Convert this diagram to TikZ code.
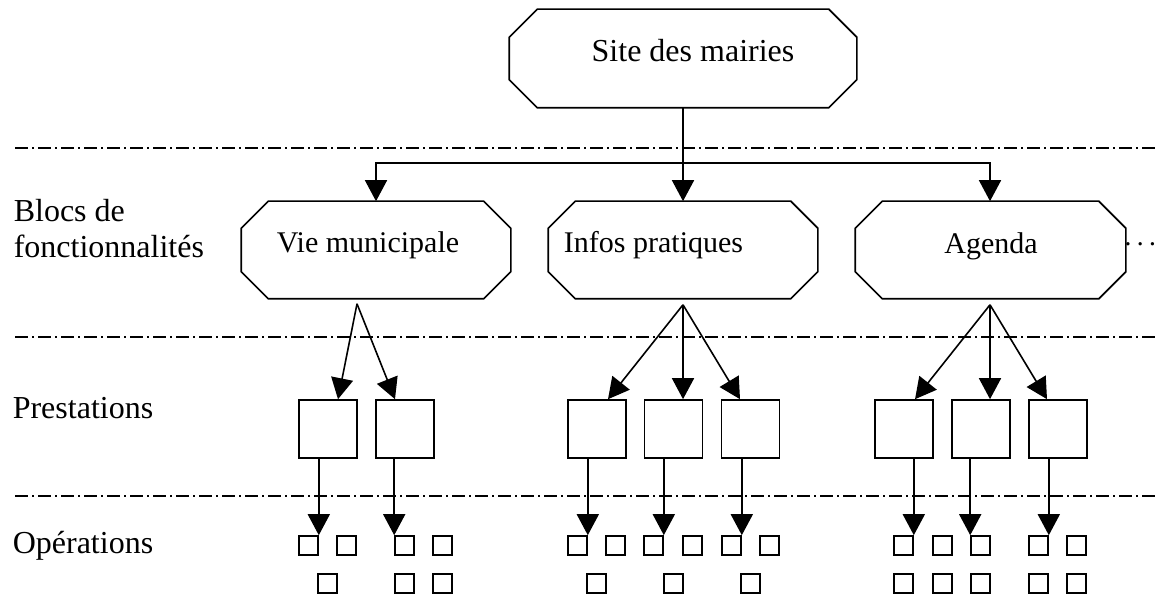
\documentclass[tikz,border=0pt]{standalone}
\usepackage{fontspec}
\setmainfont{Liberation Serif}
\usetikzlibrary{arrows.meta,calc}
\newcommand\chamfbox[2]{%
  \draw ($(#1.north west)+(#2,0)$) -- ($(#1.north east)+(-#2,0)$) -- ($(#1.north east)+(0,#2)$)
    -- ($(#1.south east)+(0,-#2)$) -- ($(#1.south east)+(-#2,0)$) -- ($(#1.south west)+(#2,0)$)
    -- ($(#1.south west)+(0,-#2)$) -- ($(#1.north west)+(0,#2)$) -- cycle;}
\begin{document}
\begin{tikzpicture}[x=0.5pt,y=-0.5pt,line width=0.8pt,
  every node/.style={font=\fontsize{16}{18}\selectfont},
  blk/.style={rectangle,draw=none,inner sep=0pt},
  txt/.style={inner sep=0pt},
  btxt/.style={inner sep=0pt,anchor=base,font=\fontsize{15}{18}\selectfont},
  pbox/.style={draw,rectangle,minimum size=29pt,inner sep=0pt},
  sq/.style={draw,rectangle,minimum size=9.5pt,inner sep=0pt},
  arr/.style={-{Triangle[length=10.5pt,width=11pt]}},
  sepline/.style={dash pattern=on 6.5pt off 2pt on 1pt off 2pt}]
\useasboundingbox (0,0) rectangle (1159,597);

% separators
\draw[sepline] (15,148) -- (1159,148);
\draw[sepline] (15,337) -- (1159,337);
\draw[sepline] (15,496) -- (1159,496);

% left labels
\node[txt,anchor=west,align=left] (lblA) at (13,229) {Blocs de\\fonctionnalités};
\node[txt,anchor=base west] (lblB) at (12,419) {Prestations};
\node[txt,anchor=base west] (lblC) at (12,553) {Opérations};

% chamfered boxes
\node[blk,minimum width=173pt,minimum height=48.5pt] (top) at (683,58.5) {};
\node[blk,minimum width=134pt,minimum height=48pt] (vie) at (376,250) {};
\node[blk,minimum width=134pt,minimum height=48pt] (infos) at (683,250) {};
\node[blk,minimum width=134.5pt,minimum height=48pt] (agenda) at (990.5,250) {};
\chamfbox{top}{28}
\chamfbox{vie}{27}
\chamfbox{infos}{27}
\chamfbox{agenda}{27}
\node[txt,anchor=base] (topT) at (693,62) {Site des mairies};
\node[btxt] (vieT) at (368,253) {Vie municipale};
\node[btxt] (infosT) at (653.5,253) {Infos pratiques};
\node[btxt] (agendaT) at (991,254) {Agenda};
\node[txt,anchor=base east,font=\fontsize{14}{16}\selectfont] (dots) at (1158,254) {·\kern1.5pt·\kern1.5pt·};

% top connectors
\coordinate (hub) at (683,163);
\draw[arr] (top.south) -- (infos.north);
\draw[arr] (hub) -| (vie.north);
\draw[arr] (hub) -| ($(agenda.north)+(-0.5,0)$);

% prestations
\node[pbox] (p11) at (328,429) {};
\node[pbox] (p12) at (405,429) {};
\node[pbox] (p21) at (597,429) {};
\node[pbox] (p22) at (673.5,429) {};
\node[pbox] (p23) at (750.5,429) {};
\node[pbox] (p31) at (904,429) {};
\node[pbox] (p32) at (981,429) {};
\node[pbox] (p33) at (1058,429) {};

\coordinate (vs) at ($(vie.south)+(-19,5)$);
\coordinate (is) at ($(infos.south)+(0,6)$);
\coordinate (as) at ($(agenda.south)+(-0.5,6)$);
\draw[arr] (vs) -- ($(p11.north)+(10,0)$);
\draw[arr] (vs) -- ($(p12.north)+(-10,0)$);
\draw[arr] (is) -- ($(p21.north)+(11,0)$);
\draw[arr] (is) -- ($(p22.north)+(9.5,0)$);
\draw[arr] (is) -- ($(p23.north)+(-10.5,0)$);
\draw[arr] (as) -- ($(p31.north)+(11,0)$);
\draw[arr] (as) -- ($(p32.north)+(9,0)$);
\draw[arr] (as) -- ($(p33.north)+(-11,0)$);

% operations: small squares
\foreach \n/\x/\y in {v1a/308.5/545.5, v1b/346.5/545.5, v1c/404.5/545.5, v1d/442.5/545.5,
  v2a/327.5/583.5, v2b/404.5/583.5, v2c/442.5/583.5,
  i1a/577.5/545.5, i1b/615.5/545.5, i1c/653.5/545.5, i1d/692.5/545.5, i1e/731.5/545.5, i1f/769.5/545.5,
  i2a/596.5/583.5, i2b/673.5/583.5, i2c/750.5/583.5,
  a1a/903.5/545.5, a1b/942.5/545.5, a1c/980.5/545.5, a1d/1038.5/545.5, a1e/1076.5/545.5,
  a2a/903.5/583.5, a2b/942.5/583.5, a2c/980.5/583.5, a2d/1038.5/583.5, a2e/1076.5/583.5}
  \node[sq] (\n) at (\x,\y) {};

\draw[arr] (v1a.north east |- p11.south) -- (v1a.north east);
\draw[arr] (v1c.north west |- p12.south) -- (v1c.north west);
\draw[arr] (i1a.north east |- p21.south) -- (i1a.north east);
\draw[arr] (i1c.north east |- p22.south) -- (i1c.north east);
\draw[arr] (i1e.north east |- p23.south) -- (i1e.north east);
\draw[arr] (a1a.north east |- p31.south) -- (a1a.north east);
\draw[arr] (a1c.north west |- p32.south) -- (a1c.north west);
\draw[arr] (a1d.north east |- p33.south) -- (a1d.north east);
\end{tikzpicture}
\end{document}
